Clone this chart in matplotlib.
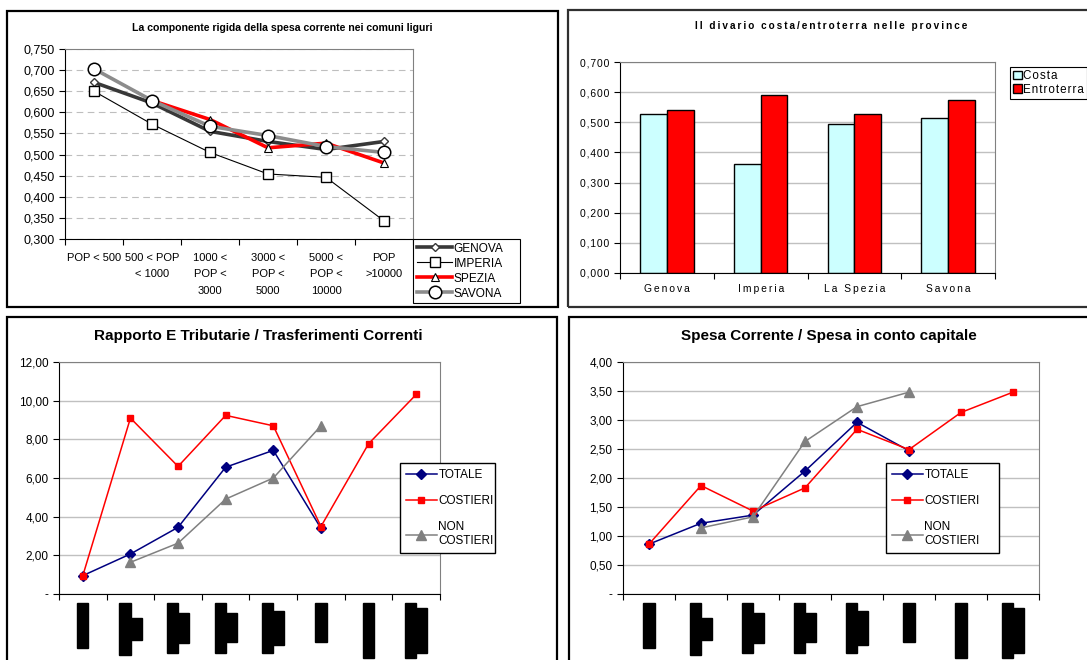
import numpy as np
import matplotlib
matplotlib.use("Agg")
import matplotlib.pyplot as plt
from matplotlib.patches import Rectangle
from matplotlib.ticker import FixedLocator, FuncFormatter

plt.rcParams["font.family"] = ["Liberation Sans", "DejaVu Sans"]

W, H = 1087, 660
nan = np.nan

# --- componente rigida della spesa corrente ---
classi_pop = ["POP < 500", "500 < POP\n< 1000", "1000 <\nPOP <\n3000",
              "3000 <\nPOP <\n5000", "5000 <\nPOP <\n10000", "POP\n>10000"]
genova = [0.671, 0.622, 0.555, 0.531, 0.512, 0.531]
imperia = [0.650, 0.572, 0.505, 0.454, 0.446, 0.343]
spezia = [nan, 0.628, 0.583, 0.516, 0.527, 0.480]
savona = [0.703, 0.628, 0.567, 0.545, 0.519, 0.505]

# --- divario costa / entroterra ---
province = ["Genova", "Imperia", "La Spezia", "Savona"]
costa = [0.529, 0.362, 0.495, 0.515]
entroterra = [0.542, 0.589, 0.529, 0.573]

# --- classi per i due grafici in basso ---
classi_8 = ["POP < 500", "500 < POP <\n1000", "1000 < POP\n< 3000",
            "3000 < POP\n< 5000", "5000 < POP\n< 10000", "10-20000",
            "20000 < POP", "POP > 50000\ncapoluoghi"]

trib_totale = [0.95, 2.07, 3.45, 6.56, 7.43, 3.40, nan, nan]
trib_costieri = [0.95, 9.10, 6.60, 9.24, 8.70, 3.49, 7.77, 10.32]
trib_non = [nan, 1.64, 2.63, 4.91, 6.00, 8.70, nan, nan]

cap_totale = [0.86, 1.22, 1.36, 2.12, 2.96, 2.47, nan, nan]
cap_costieri = [0.86, 1.87, 1.43, 1.83, 2.84, 2.49, 3.13, 3.48]
cap_non = [nan, 1.14, 1.33, 2.63, 3.23, 3.48, nan, nan]


def spaziato(s, sep="\u2009"):
    # wide letter spacing of the old chart engine
    return sep.join(s)


def px_axes(fig, x0, y0, x1, y1):
    return fig.add_axes([x0 / W, 1 - y1 / H, (x1 - x0) / W, (y1 - y0) / H])


def frame(fig, x0, y0, x1, y1, lw=1.6, color="black"):
    fig.patches.append(Rectangle((x0 / W, 1 - y1 / H), (x1 - x0) / W, (y1 - y0) / H,
                                 transform=fig.transFigure, fill=False,
                                 edgecolor=color, linewidth=lw, zorder=0))


def excel_axes(ax, n):
    # category axis: ticks on the boundaries, labels in the middle
    ax.set_xlim(0.5, n + 0.5)
    ax.xaxis.set_major_locator(FixedLocator(np.arange(0.5, n + 1, 1.0)))
    ax.xaxis.set_minor_locator(FixedLocator(np.arange(1, n + 1)))
    ax.tick_params(axis="x", which="major", length=4, width=0.8, labelbottom=False, direction="out")
    ax.tick_params(axis="x", which="minor", length=0)
    ax.tick_params(axis="y", length=4, width=0.8, direction="out")
    for s in ("top", "right"):
        ax.spines[s].set_color("#808080")
    for s in ("left", "bottom"):
        ax.spines[s].set_color("black")
    ax.set_axisbelow(True)


fig = plt.figure(figsize=(W / 100, H / 100), dpi=100)
fig.patch.set_facecolor("white")

frame(fig, 7, 11, 558, 307)
frame(fig, 568, 10, 1092, 307, color="#303030")
frame(fig, 7, 317, 557, 668)
frame(fig, 569, 317, 1092, 668)

# ---------- pannello 1 ----------
ax1 = px_axes(fig, 65, 49, 413, 239)
excel_axes(ax1, 6)
x6 = np.arange(1, 7)
ax1.plot(x6, genova, color="#383838", lw=2.6, marker="D", ms=4.5, mfc="white", mec="#383838", mew=1, label="GENOVA")
ax1.plot(x6, imperia, color="black", lw=0.8, marker="s", ms=7, mfc="white", mec="black", mew=1, label="IMPERIA")
ax1.plot(x6, spezia, color="#FF0000", lw=2.6, marker="^", ms=6, mfc="white", mec="black", mew=0.8, label="SPEZIA")
ax1.plot(x6, savona, color="#8C8C8C", lw=2.6, marker="o", ms=9, mfc="white", mec="black", mew=1.1, label="SAVONA")
ax1.set_ylim(0.300, 0.750)
ax1.set_yticks(np.arange(0.300, 0.751, 0.050))
ax1.yaxis.set_major_formatter(FuncFormatter(lambda v, p: f"{v:.3f}".replace(".", ",")))
ax1.tick_params(axis="y", labelsize=9)
ax1.set_xticks(x6, classi_pop, minor=True, fontsize=8.0, linespacing=1.8, va="top")
ax1.tick_params(axis="x", which="minor", pad=10)
ax1.grid(axis="y", color="#BEBEBE", lw=0.8, ls=(0, (6, 4)))
fig.text(282 / W, 1 - 28 / H, "La componente rigida della spesa corrente nei comuni liguri",
         ha="center", va="center", fontsize=7.6, fontweight="bold")
lg1 = ax1.legend(loc="upper left", bbox_to_anchor=(413 / W, 1 - 305 / H, 107 / W, 66 / H),
                 bbox_transform=fig.transFigure, mode="expand", fontsize=8.6, handlelength=3.0,
                 handletextpad=0.1, labelspacing=0.25, borderpad=0.3, borderaxespad=0,
                 fancybox=False, edgecolor="black", framealpha=1)
lg1.get_frame().set_linewidth(0.8)

# ---------- pannello 2 ----------
ax2 = px_axes(fig, 620, 62, 995, 273)
x4 = np.arange(1, 5)
bw = 0.285
ax2.bar(x4 - bw / 2, costa, bw, color="#CCFFFF", edgecolor="black", lw=1,
        label=spaziato("Costa", "\u200a"))
ax2.bar(x4 + bw / 2, entroterra, bw, color="#FF0000", edgecolor="black", lw=1,
        label=spaziato("Entroterra", "\u200a"))
excel_axes(ax2, 4)
ax2.set_ylim(0, 0.700)
ax2.set_yticks(np.arange(0, 0.701, 0.100))
ax2.yaxis.set_major_formatter(FuncFormatter(
    lambda v, p: spaziato(f"{v:.3f}".replace(".", ","), "\u200a")))
ax2.tick_params(axis="y", labelsize=7.4)
ax2.set_xticks(x4, [spaziato(p) for p in province], minor=True, fontsize=7.4)
ax2.tick_params(axis="x", which="minor", pad=8)
ax2.grid(axis="y", color="#C0C0C0", lw=1)
fig.text(831 / W, 1 - 26 / H, spaziato("Il divario costa/entroterra nelle province"),
         ha="center", va="center", fontsize=7.2, fontweight="bold")
lg2 = ax2.legend(loc="upper left", bbox_to_anchor=(1010 / W, 1 - 67 / H),
                 bbox_transform=fig.transFigure, fontsize=8.4, handlelength=0.75, handleheight=0.75,
                 handletextpad=0.15, labelspacing=0.15, borderpad=0.25, borderaxespad=0,
                 fancybox=False, edgecolor="black", framealpha=1)
lg2.get_frame().set_linewidth(0.8)

renderer = fig.canvas.get_renderer()
blocco = dict(facecolor="black", edgecolor="black", pad=0.8)


def etichette_nere(ax, labels):
    # rotated category labels, printed as solid black blocks
    for i, lab in enumerate(labels, start=1):
        righe = lab.split("\n")
        dx = [0] if len(righe) == 1 else [-5.5, 5.5]
        prima = ax.annotate(righe[0], xy=(i, 0), xycoords=("data", "axes fraction"),
                            xytext=(dx[0], -10), textcoords="offset pixels", rotation=90,
                            ha="center", va="top", fontsize=6.3, color="black", bbox=blocco)
        if len(righe) > 1:
            bb = prima.get_window_extent(renderer)
            base = ax.transAxes.transform((0, 0))[1]
            centro = (bb.y0 + bb.y1) / 2 - base
            ax.annotate(righe[1], xy=(i, 0), xycoords=("data", "axes fraction"),
                        xytext=(dx[1], centro), textcoords="offset pixels", rotation=90,
                        ha="center", va="center", fontsize=6.3, color="black", bbox=blocco)


def pannello_basso(ax, totale, costieri, non_cost, ymax, step, title, tx, leg_box):
    excel_axes(ax, 8)
    x8 = np.arange(1, 9)
    ax.plot(x8, totale, color="#000080", lw=1.1, marker="D", ms=5, label="TOTALE")
    ax.plot(x8, costieri, color="#FF0000", lw=1.1, marker="s", ms=4, label="COSTIERI")
    ax.plot(x8, non_cost, color="#808080", lw=1.1, marker="^", ms=6.5, label="NON\nCOSTIERI")
    ax.set_ylim(0, ymax)
    ax.set_yticks(np.arange(0, ymax + step / 2, step))
    ax.yaxis.set_major_formatter(FuncFormatter(
        lambda v, p: "-" if abs(v) < 1e-9 else f"{v:.2f}".replace(".", ",")))
    ax.tick_params(axis="y", labelsize=8.5)
    ax.grid(axis="y", color="#C0C0C0", lw=1)
    etichette_nere(ax, classi_8)
    fig.text(tx / W, 1 - 336 / H, title, ha="center", va="center", fontsize=11, fontweight="bold")
    x0, y0, x1, y1 = leg_box
    lg = ax.legend(loc="upper left", bbox_to_anchor=(x0 / W, 1 - y1 / H, (x1 - x0) / W, (y1 - y0) / H),
                   bbox_transform=fig.transFigure, mode="expand", fontsize=8.5, handlelength=2.6,
                   handletextpad=0.15, labelspacing=1.2, borderpad=0.5, borderaxespad=0,
                   fancybox=False, edgecolor="black", framealpha=1)
    lg.get_frame().set_linewidth(1)


ax3 = px_axes(fig, 59, 362, 440, 594)
pannello_basso(ax3, trib_totale, trib_costieri, trib_non, 12, 2,
               "Rapporto E Tributarie / Trasferimenti Correnti", 258, (400, 463, 495, 554))

ax4 = px_axes(fig, 623, 362, 1039, 594)
pannello_basso(ax4, cap_totale, cap_costieri, cap_non, 4, 0.5,
               "Spesa Corrente / Spesa in conto capitale", 829, (886, 463, 999, 554))

fig.savefig("out.png", dpi=100)
